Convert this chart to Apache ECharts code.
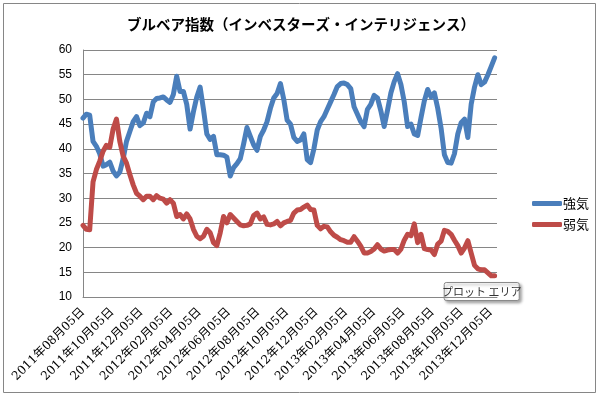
<!DOCTYPE html>
<html>
<head>
<meta charset="utf-8">
<script src="https://cdn.jsdelivr.net/npm/echarts@6/dist/echarts.min.js"></script>
<style>
  html, body { margin: 0; padding: 0; background: #fff; }
  #chart { width: 602px; height: 397px; }
</style>
</head>
<body>
<div id="chart"></div>
<script>
// 週次データ（2011年08月05日から）
var startDate = '2011-08-05';
var endDate = '2013-12-18';
var seriesNames = ['強気', '弱気'];

var bulls = [
  46.2, 47.0, 46.8, 41.5, 40.5, 39.0, 36.5, 36.8, 37.3, 35.5,
  34.5, 35.3, 38.0, 41.5, 43.5, 45.5, 46.5, 44.7, 45.2, 47.2,
  46.5, 49.5, 50.2, 50.3, 50.5, 49.9, 49.4, 51.0, 54.7, 51.6,
  51.6, 49.0, 44.0, 47.5, 50.5, 52.5, 48.0, 43.0, 41.9, 42.5,
  38.8, 38.8, 38.7, 38.3, 34.5, 36.2, 37.0, 38.0, 41.0, 44.3,
  42.5, 40.8, 39.7, 42.5, 43.8, 45.5, 48.2, 50.3, 51.2, 53.2,
  50.0, 45.8, 45.0, 42.3, 41.5, 41.8, 43.0, 37.8, 37.2, 40.0,
  43.8, 45.5, 46.5, 48.0, 49.5, 51.0, 52.6, 53.2, 53.3, 53.0,
  52.2, 48.5, 47.0, 45.5, 44.5, 48.0, 49.0, 50.8, 50.3, 47.7,
  44.5, 47.8, 51.3, 53.6, 55.2, 53.0, 49.5, 44.5, 45.0, 43.0,
  42.7, 46.3, 49.7, 52.0, 50.5, 51.3, 48.2, 44.2, 38.8, 37.2,
  37.1, 39.0, 43.0, 45.3, 46.0, 42.3, 49.0, 52.5, 55.0, 53.0,
  53.5, 55.0, 56.7, 58.4
];

var bears = [
  24.5, 23.7, 23.6, 33.3, 35.8, 37.5, 39.5, 40.7, 40.3, 44.0,
  46.0, 41.5, 38.5, 37.1, 34.8, 32.7, 31.0, 30.4, 29.7, 30.4,
  30.4, 29.7, 30.5, 30.0, 29.8, 29.0, 29.7, 29.0, 26.3, 26.7,
  25.8, 26.8, 25.8, 23.7, 22.3, 21.8, 22.3, 23.7, 23.0, 21.0,
  20.4, 23.0, 26.3, 25.0, 26.7, 26.0, 25.3, 24.6, 24.4, 24.5,
  24.8, 26.5, 27.0, 25.8, 26.2, 24.7, 24.6, 24.8, 25.3, 24.4,
  25.0, 25.3, 25.5, 27.0, 27.6, 27.7, 28.2, 28.6, 27.7, 27.6,
  24.5, 23.8, 24.3, 24.2, 23.2, 22.5, 22.1, 21.6, 21.4, 21.1,
  21.1, 22.2, 21.3, 20.3, 18.9, 18.9, 19.2, 19.7, 20.6, 19.7,
  19.3, 19.5, 19.6, 19.6, 18.9, 19.7, 21.5, 22.7, 22.4, 24.8,
  21.0, 22.7, 19.8, 19.6, 19.5, 18.6, 20.7, 21.3, 23.5, 23.3,
  22.7, 21.5, 20.4, 18.9, 19.9, 21.4, 18.9, 16.4, 15.7, 15.5,
  15.5, 14.9, 14.3, 14.3
];

// x軸の目盛り（2か月ごと）
var tickDates = [
  '2011-08-05', '2011-10-05', '2011-12-05', '2012-02-05', '2012-04-05',
  '2012-06-05', '2012-08-05', '2012-10-05', '2012-12-05', '2013-02-05',
  '2013-04-05', '2013-06-05', '2013-08-05', '2013-10-05', '2013-12-05'
];

var DAY = 86400000;
function toUTC(s) {
  var p = s.split('-');
  return Date.UTC(+p[0], +p[1] - 1, +p[2]);
}
// 開始日からの日数
function toDay(s) { return Math.round((toUTC(s) - toUTC(startDate)) / DAY); }
function pad(n) { return (n < 10 ? '0' : '') + n; }
function dayLabel(v) {
  var d = new Date(toUTC(startDate) + Math.round(v) * DAY);
  return d.getUTCFullYear() + '年' + pad(d.getUTCMonth() + 1) + '月' + pad(d.getUTCDate()) + '日';
}

var bullData = bulls.map(function (v, i) { return [7 * i, v]; });
var bearData = bears.map(function (v, i) { return [7 * i, v]; });

var myChart = echarts.init(document.getElementById('chart'));

var option = {
  backgroundColor: '#fff',
  animation: false,
  title: {
    text: 'ブルベア指数（インベスターズ・インテリジェンス）',
    left: 'center',
    top: 12,
    textStyle: {
      fontFamily: '"Noto Sans CJK JP", sans-serif',
      fontSize: 14.5,
      fontWeight: 'bold',
      color: '#000'
    }
  },
  legend: {
    data: seriesNames,
    orient: 'vertical',
    left: 527,
    top: 192,
    itemWidth: 30,
    itemHeight: 5,
    itemGap: 8,
    icon: 'roundRect',
    textStyle: {
      fontFamily: '"Noto Sans CJK JP", sans-serif',
      fontSize: 13,
      color: '#000',
      padding: [0, 0, 0, -4]
    }
  },
  grid: {
    left: 83,
    right: 105,
    top: 50,
    bottom: 100,
    containLabel: false
  },
  xAxis: {
    type: 'value',
    min: 0,
    max: toDay(endDate),
    axisLine: { show: true, lineStyle: { color: '#868686', width: 1 } },
    axisTick: { show: false },
    splitLine: { show: false },
    axisLabel: {
      customValues: tickDates.map(toDay),
      rotate: 45,
      margin: 13,
      fontFamily: '"DejaVu Serif", "Noto Sans CJK JP", serif',
      fontSize: 12,
      color: '#000',
      formatter: dayLabel
    }
  },
  yAxis: {
    type: 'value',
    min: 10,
    max: 60,
    interval: 5,
    axisLine: { show: true, lineStyle: { color: '#868686', width: 1 } },
    axisTick: { show: false },
    splitLine: { lineStyle: { color: '#868686', width: 1 } },
    axisLabel: {
      margin: 11,
      fontFamily: '"Liberation Sans", Arial, sans-serif',
      fontSize: 12,
      color: '#000'
    }
  },
  series: [
    {
      name: seriesNames[0],
      type: 'line',
      data: bullData,
      showSymbol: false,
      color: '#4A7EBB',
      lineStyle: { width: 5, cap: 'round', join: 'round' }
    },
    {
      name: seriesNames[1],
      type: 'line',
      data: bearData,
      showSymbol: false,
      color: '#BE4B48',
      lineStyle: { width: 5, cap: 'round', join: 'round' }
    }
  ],
  graphic: [
    {
      type: 'rect',
      shape: { x: 3.5, y: 3.5, width: 592, height: 389 },
      style: { fill: 'none', stroke: '#868686', lineWidth: 1 },
      silent: true
    },
    {
      type: 'group',
      left: 442,
      top: 282,
      children: [
        {
          type: 'rect',
          shape: { x: 0, y: 0, width: 75, height: 18, r: 2 },
          style: {
            fill: '#fff',
            stroke: '#8a8a8a',
            lineWidth: 1,
            shadowBlur: 3,
            shadowOffsetX: 2,
            shadowOffsetY: 2,
            shadowColor: 'rgba(0,0,0,0.35)'
          }
        },
        {
          type: 'text',
          x: 37.5,
          y: 9,
          style: {
            text: 'プロット エリア',
            fill: '#333',
            font: '11px "Noto Sans CJK JP", sans-serif',
            align: 'center',
            verticalAlign: 'middle'
          }
        }
      ]
    }
  ]
};

myChart.setOption(option);
</script>
</body>
</html>
